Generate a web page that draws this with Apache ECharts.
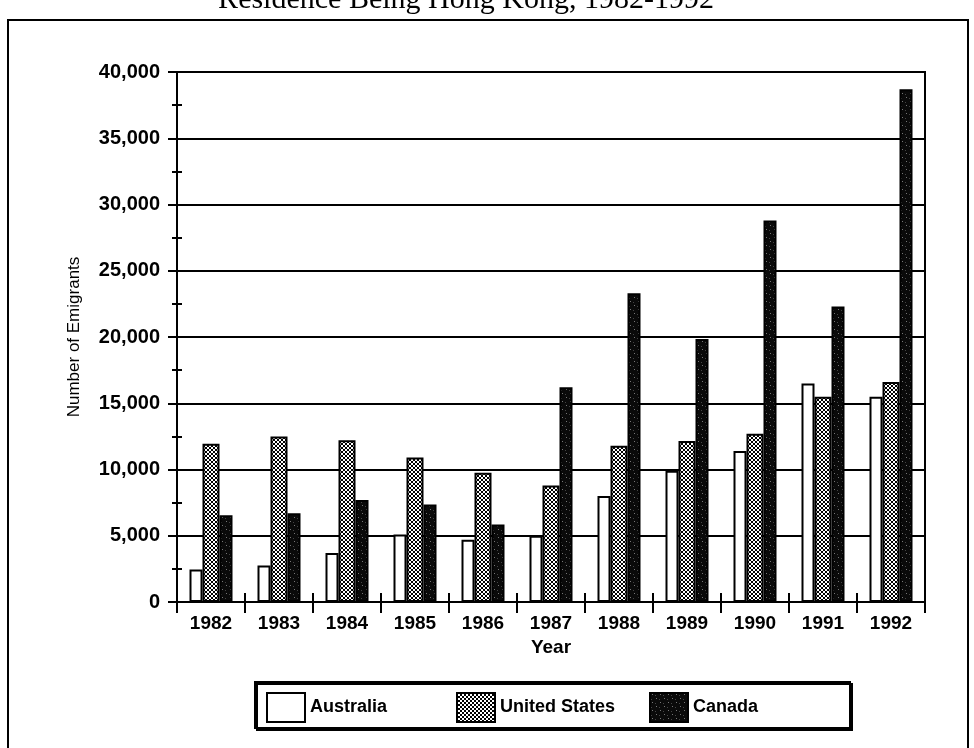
<!DOCTYPE html>
<html>
<head>
<meta charset="utf-8">
<script src="https://cdn.jsdelivr.net/npm/echarts@6/dist/echarts.min.js"></script>
<style>
  html, body { margin: 0; padding: 0; background: #fff; }
  #chart { width: 974px; height: 748px; }
</style>
</head>
<body>
<div id="chart"></div>
<script>
// Emigrants from Hong Kong by destination, 1982-1992
const years = ['1982', '1983', '1984', '1985', '1986', '1987', '1988', '1989', '1990', '1991', '1992'];
const australia = [2450, 2750, 3700, 5100, 4700, 5000, 8000, 9900, 11400, 16500, 15500];
const unitedStates = [11950, 12500, 12200, 10900, 9750, 8800, 11800, 12150, 12700, 15500, 16600];
const canada = [6550, 6700, 7700, 7350, 5850, 16200, 23300, 19850, 28800, 22300, 38700];
const seriesNames = ['Australia', 'United States', 'Canada'];
const yTicks = { min: 0, max: 40000, interval: 5000 };

// Fill patterns: a fine black/white weave and a near-black speckle
function weavePattern() {
  const c = document.createElement('canvas');
  c.width = 4; c.height = 4;
  const g = c.getContext('2d');
  g.fillStyle = '#fff'; g.fillRect(0, 0, 4, 4);
  g.fillStyle = '#000';
  const cells = [[1,0],[2,0],[0,1],[3,1],[0,2],[3,2],[1,3],[2,3]];
  cells.forEach(([x, y]) => g.fillRect(x, y, 1, 1));
  return c;
}
function speckPattern() {
  const c = document.createElement('canvas');
  c.width = 8; c.height = 8;
  const g = c.getContext('2d');
  g.fillStyle = '#0a0a0a'; g.fillRect(0, 0, 8, 8);
  g.fillStyle = '#777';
  g.fillRect(2, 1, 1, 1);
  g.fillRect(6, 5, 1, 1);
  g.fillStyle = '#444';
  g.fillRect(5, 2, 1, 1);
  g.fillRect(1, 6, 1, 1);
  return c;
}

const font = '"Liberation Sans", Arial, sans-serif';
const chart = echarts.init(document.getElementById('chart'), null, { renderer: 'canvas' });

const barBase = { type: 'bar', barGap: '0%', xAxisIndex: 0, yAxisIndex: 0 };

// One legend block per series so the entries sit on an even pitch inside a shared box
const legendLefts = [266, 456, 649];
const legends = seriesNames.map((name, i) => ({
  left: legendLefts[i], top: 692,
  padding: 0,
  icon: 'rect',
  itemWidth: 38, itemHeight: 29,
  textStyle: { fontFamily: font, fontSize: 18, fontWeight: 'bold', color: '#000' },
  data: [name]
}));

chart.setOption({
  animation: false,
  backgroundColor: '#fff',
  graphic: [
    {
      type: 'rect', z: -1, silent: true,
      shape: { x: 8, y: 20, width: 960, height: 760 },
      style: { fill: 'none', stroke: '#000', lineWidth: 2 }
    },
    {
      type: 'text', silent: true,
      x: 466, y: 15,
      style: {
        text: 'Residence Being Hong Kong, 1982-1992',
        font: '30px "Liberation Serif", "Times New Roman", serif',
        fill: '#000', textAlign: 'center', textVerticalAlign: 'bottom'
      }
    },
    {
      type: 'rect', z: 0, silent: true,
      shape: { x: 255, y: 682, width: 595, height: 46 },
      style: {
        fill: '#fff', stroke: '#000', lineWidth: 2,
        shadowColor: '#000', shadowOffsetX: 2, shadowOffsetY: 2, shadowBlur: 0
      }
    }
  ],
  grid: {
    left: 177, top: 72, width: 748, height: 530,
    show: true, borderColor: '#000', borderWidth: 2, backgroundColor: 'transparent'
  },
  legend: legends,
  xAxis: [
    {
      type: 'category', data: years, position: 'bottom',
      name: 'Year', nameLocation: 'middle', nameGap: 35,
      nameTextStyle: { fontFamily: font, fontSize: 19, fontWeight: 'bold', color: '#000' },
      axisLine: { show: true, lineStyle: { color: '#000', width: 2 } },
      axisTick: { show: true, length: 11, lineStyle: { color: '#000', width: 2 } },
      axisLabel: { fontFamily: font, fontSize: 19, fontWeight: 'bold', color: '#000', margin: 12 },
      splitLine: { show: false }
    },
    {
      type: 'category', data: years, position: 'bottom',
      axisLine: { show: false },
      axisTick: { show: true, inside: true, length: 9, lineStyle: { color: '#000', width: 2 } },
      axisLabel: { show: false },
      splitLine: { show: false }
    }
  ],
  yAxis: [
    {
      type: 'value', min: yTicks.min, max: yTicks.max, interval: yTicks.interval,
      name: 'Number of Emigrants', nameLocation: 'middle', nameGap: 94,
      nameTextStyle: { fontFamily: font, fontSize: 17, color: '#000' },
      axisLine: { show: true, lineStyle: { color: '#000', width: 2 } },
      axisTick: { show: true, length: 9, lineStyle: { color: '#000', width: 2 } },
      minorTick: { show: true, splitNumber: 2, length: 5, lineStyle: { color: '#000', width: 2 } },
      axisLabel: {
        fontFamily: font, fontSize: 20, fontWeight: 'bold', color: '#000', margin: 17,
        formatter: v => v.toLocaleString('en-US')
      },
      splitLine: { show: true, lineStyle: { color: '#000', width: 2 } }
    },
    {
      type: 'value', min: yTicks.min, max: yTicks.max, interval: yTicks.interval, position: 'left',
      axisLine: { show: false },
      axisTick: { show: true, inside: true, length: 8, lineStyle: { color: '#000', width: 2 } },
      minorTick: { show: true, splitNumber: 2, length: 5, lineStyle: { color: '#000', width: 2 } },
      axisLabel: { show: false },
      splitLine: { show: false }
    }
  ],
  series: [
    Object.assign({}, barBase, {
      name: seriesNames[0], data: australia, barWidth: 13,
      itemStyle: { color: '#fff', borderColor: '#000', borderWidth: 2 }
    }),
    Object.assign({}, barBase, {
      name: seriesNames[1], data: unitedStates, barWidth: 17,
      itemStyle: { color: { image: weavePattern(), repeat: 'repeat' }, borderColor: '#000', borderWidth: 2 }
    }),
    Object.assign({}, barBase, {
      name: seriesNames[2], data: canada, barWidth: 13,
      itemStyle: { color: { image: speckPattern(), repeat: 'repeat' }, borderColor: '#000', borderWidth: 2 }
    })
  ]
});
</script>
</body>
</html>
